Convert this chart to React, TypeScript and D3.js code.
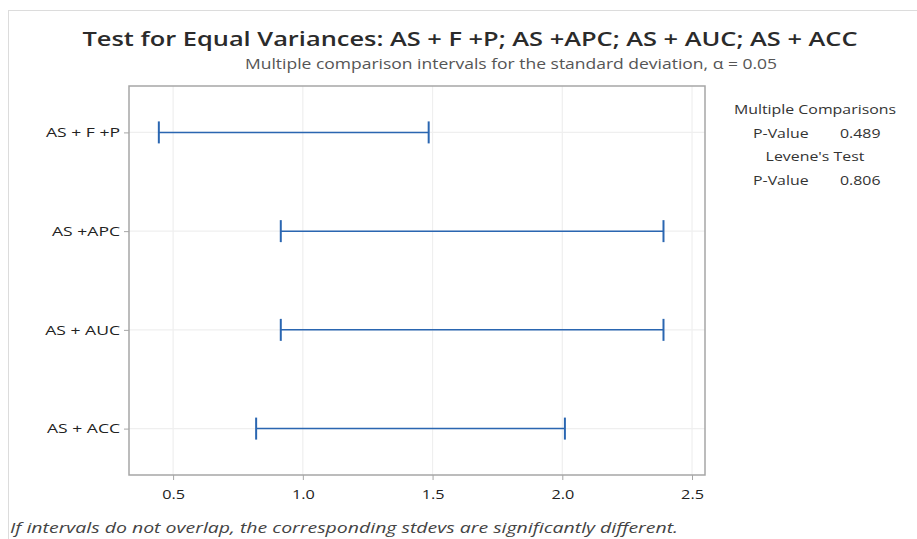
import React, { useEffect, useRef } from 'react';
import * as d3 from 'd3';

const groups = ['AS + F +P', 'AS +APC', 'AS + AUC', 'AS + ACC'];
const lower = [0.445, 0.915, 0.915, 0.82];
const upper = [1.485, 2.39, 2.39, 2.01];
const xTicks = [0.5, 1.0, 1.5, 2.0, 2.5];
const legendRows = [
  { label: 'Multiple Comparisons', value: '' },
  { label: 'P-Value', value: '0.489' },
  { label: "Levene's Test", value: '' },
  { label: 'P-Value', value: '0.806' },
];

const W = 917;
const H = 539;
const FONT = "'Open Sans', 'Noto Sans', sans-serif";

// the original render is a bit stretched sideways, widen text to match
function stretch(sel: d3.Selection<any, any, any, any>, k: number) {
  sel.each(function () {
    const t = this as SVGTextElement;
    const len = t.getComputedTextLength();
    d3.select(t).attr('textLength', len * k).attr('lengthAdjust', 'spacingAndGlyphs');
  });
}

export default function App() {
  const ref = useRef<SVGSVGElement>(null);

  useEffect(() => {
    document.body.style.margin = '0';
    const svg = d3.select(ref.current);
    svg.selectAll('*').remove();

    const margin = { top: 86, right: 212, bottom: 64, left: 129 };
    const width = W - margin.left - margin.right;
    const height = H - margin.top - margin.bottom;

    // outer light frame
    svg
      .append('rect')
      .attr('x', 8.5)
      .attr('y', 10.5)
      .attr('width', W)
      .attr('height', H)
      .attr('fill', 'white')
      .attr('stroke', '#dcdcdc');

    svg
      .append('text')
      .attr('x', 470)
      .attr('y', 46)
      .attr('text-anchor', 'middle')
      .attr('font-family', FONT)
      .attr('font-size', 19.5)
      .attr('font-weight', 600)
      .attr('fill', '#2b2b2b')
      .attr('textLength', 775)
      .attr('lengthAdjust', 'spacingAndGlyphs')
      .text('Test for Equal Variances: AS + F +P; AS +APC; AS + AUC; AS + ACC');

    svg
      .append('text')
      .attr('x', 511)
      .attr('y', 69)
      .attr('text-anchor', 'middle')
      .attr('font-family', FONT)
      .attr('font-size', 14.5)
      .attr('fill', '#555')
      .attr('textLength', 532)
      .attr('lengthAdjust', 'spacingAndGlyphs')
      .text('Multiple comparison intervals for the standard deviation, \u03b1 = 0.05');

    const x = d3.scaleLinear().domain([0.33, 2.55]).range([0, width]);
    const y = d3.scalePoint().domain(groups).range([0, height]).padding(0.47);

    const g = svg
      .append('g')
      .attr('transform', 'translate(' + margin.left + ',' + margin.top + ')');

    // grid
    g.selectAll('.vgrid')
      .data(xTicks)
      .enter()
      .append('line')
      .attr('x1', (d) => x(d))
      .attr('x2', (d) => x(d))
      .attr('y1', 0)
      .attr('y2', height)
      .attr('stroke', '#efefef')
      .attr('stroke-width', 1.2);

    g.selectAll('.hgrid')
      .data(groups)
      .enter()
      .append('line')
      .attr('x1', 0)
      .attr('x2', width)
      .attr('y1', (d) => y(d)!)
      .attr('y2', (d) => y(d)!)
      .attr('stroke', '#efefef')
      .attr('stroke-width', 1.2);

    // frame
    g.append('rect')
      .attr('x', 0)
      .attr('y', 0)
      .attr('width', width)
      .attr('height', height)
      .attr('fill', 'none')
      .attr('stroke', '#a6a6a6')
      .attr('stroke-width', 1.5);

    const xAxis = g
      .append('g')
      .attr('transform', 'translate(0,' + height + ')')
      .call(
        d3
          .axisBottom(x)
          .tickValues(xTicks)
          .tickFormat(d3.format('.1f'))
          .tickSize(5)
          .tickPadding(10)
      );
    xAxis.select('.domain').remove();
    xAxis.selectAll('line').attr('stroke', '#a6a6a6');
    xAxis
      .selectAll('text')
      .attr('font-family', FONT)
      .attr('font-size', 12.5)
      .attr('fill', '#222');
    stretch(xAxis.selectAll('text'), 1.3);

    const yAxis = g
      .append('g')
      .call(d3.axisLeft(y).tickSize(5).tickPadding(4));
    yAxis.select('.domain').remove();
    yAxis.selectAll('line').attr('stroke', '#a6a6a6');
    yAxis
      .selectAll('text')
      .attr('font-family', FONT)
      .attr('font-size', 13)
      .attr('fill', '#222');
    stretch(yAxis.selectAll('text'), 1.35);

    // intervals
    const data = groups.map((name, i) => ({ name, lo: lower[i], hi: upper[i] }));
    const blue = '#2a66b1';
    const cap = 11;
    const iv = g.selectAll('.iv').data(data).enter().append('g');
    iv.append('line')
      .attr('x1', (d) => x(d.lo))
      .attr('x2', (d) => x(d.hi))
      .attr('y1', (d) => y(d.name)!)
      .attr('y2', (d) => y(d.name)!)
      .attr('stroke', blue)
      .attr('stroke-width', 1.5);
    iv.append('line')
      .attr('x1', (d) => x(d.lo))
      .attr('x2', (d) => x(d.lo))
      .attr('y1', (d) => y(d.name)! - cap)
      .attr('y2', (d) => y(d.name)! + cap)
      .attr('stroke', blue)
      .attr('stroke-width', 2);
    iv.append('line')
      .attr('x1', (d) => x(d.hi))
      .attr('x2', (d) => x(d.hi))
      .attr('y1', (d) => y(d.name)! - cap)
      .attr('y2', (d) => y(d.name)! + cap)
      .attr('stroke', blue)
      .attr('stroke-width', 2);

    // legend table
    const lg = svg.append('g').attr('font-family', FONT).attr('font-size', 12.5).attr('fill', '#333');
    legendRows.forEach((r, i) => {
      const yy = 114 + i * 23.7;
      if (r.value) {
        lg.append('text').attr('x', 753).attr('y', yy).text(r.label);
        lg.append('text').attr('x', 840).attr('y', yy).text(r.value);
      } else {
        lg.append('text').attr('x', 815).attr('y', yy).attr('text-anchor', 'middle').text(r.label);
      }
    });
    stretch(lg.selectAll('text'), 1.27);

    svg
      .append('text')
      .attr('x', 10)
      .attr('y', 533)
      .attr('font-family', FONT)
      .attr('font-size', 15)
      .attr('font-style', 'italic')
      .attr('fill', '#444')
      .attr('textLength', 668)
      .attr('lengthAdjust', 'spacingAndGlyphs')
      .text('If intervals do not overlap, the corresponding stdevs are significantly different.');
  }, []);

  return <svg ref={ref} width={W} height={H} style={{ display: 'block' }} />;
}
